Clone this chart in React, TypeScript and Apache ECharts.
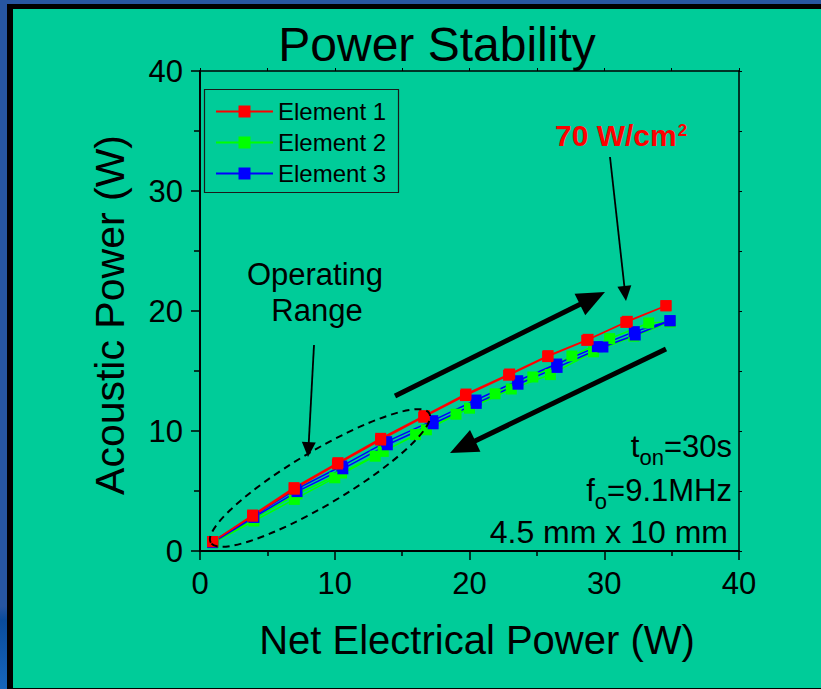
import React, { useEffect, useRef } from "react";
import * as echarts from "echarts";

// ---- data ----
const seriesNames = ["Element 1", "Element 2", "Element 3"];
const xTicks = [0, 10, 20, 30, 40];
const yTicks = [0, 10, 20, 30, 40];

// Element 1 (red) : up sweep and down sweep
const e1UpX = [0.94, 3.91, 6.98, 10.24, 13.41, 16.65, 19.74, 22.98, 25.83, 28.8, 31.71, 34.58];
const e1UpY = [0.78, 3.0, 5.28, 7.36, 9.39, 11.28, 13.08, 14.75, 16.28, 17.64, 19.14, 20.44];
const e1DownX = [34.58, 31.6, 28.7, 25.8, 22.9, 19.7, 16.6, 13.4, 10.2, 7.0, 3.9, 0.94];
const e1DownY = [20.44, 19.05, 17.55, 16.2, 14.65, 12.95, 11.15, 9.25, 7.25, 5.15, 2.9, 0.78];

// Element 2 (green)
const e2UpX = [1.0, 4.0, 7.2, 10.5, 13.6, 16.8, 20.0, 23.1, 26.0, 29.2, 32.2, 34.9];
const e2UpY = [0.7, 2.7, 4.75, 6.5, 8.3, 10.1, 11.9, 13.5, 14.7, 16.6, 17.9, 19.1];
const e2DownX = [34.9, 33.3, 30.4, 27.6, 24.7, 21.9, 19.0, 16.0, 13.0, 10.0, 7.0, 4.0, 1.0];
const e2DownY = [19.1, 19.0, 17.7, 16.25, 14.5, 13.1, 11.4, 9.7, 7.9, 6.1, 4.3, 2.5, 0.7];

// Element 3 (blue)
const e3UpX = [0.94, 3.96, 7.12, 10.52, 13.85, 17.27, 20.48, 23.58, 26.47, 29.49, 32.23, 34.88];
const e3UpY = [0.78, 2.92, 5.14, 7.08, 9.11, 10.86, 12.58, 14.19, 15.58, 17.03, 18.28, 19.19];
const e3DownX = [34.88, 32.3, 29.9, 26.5, 23.6, 20.5, 17.3, 13.9, 10.6, 7.2, 4.0, 0.94];
const e3DownY = [19.19, 18.0, 17.0, 15.3, 13.9, 12.3, 10.6, 8.85, 6.85, 4.95, 2.8, 0.7];

const FONT = '"Liberation Sans", Arial, sans-serif';

function pairs(xs: number[], ys: number[]) {
  return xs.map((x, i) => [x, ys[i]]);
}

function measure(text: string, font: string): number {
  const c = document.createElement("canvas");
  const ctx = c.getContext("2d")!;
  ctx.font = font;
  return ctx.measureText(text).width;
}

// text placed by its alphabetic baseline
function txt(text: string, x: number, baseline: number, size: number, opts: any = {}) {
  return {
    type: "text",
    x,
    y: baseline - 0.35 * size,
    rotation: opts.rotation || 0,
    style: {
      text,
      fontSize: size,
      fontFamily: FONT,
      fontWeight: opts.weight || "normal",
      fill: opts.color || "#000",
      align: opts.align || "left",
      verticalAlign: "middle",
    },
    z: 50,
  };
}

function arrow(x1: number, y1: number, x2: number, y2: number, w: number, hl: number, hw: number) {
  const dx = x2 - x1;
  const dy = y2 - y1;
  const L = Math.sqrt(dx * dx + dy * dy);
  const ux = dx / L;
  const uy = dy / L;
  const bx = x2 - hl * ux;
  const by = y2 - hl * uy;
  const nx = -uy;
  const ny = ux;
  return [
    {
      type: "line",
      shape: { x1, y1, x2: bx + ux * 2, y2: by + uy * 2 },
      style: { stroke: "#000", lineWidth: w },
      z: 50,
    },
    {
      type: "polygon",
      shape: {
        points: [
          [x2, y2],
          [bx + nx * hw, by + ny * hw],
          [bx - nx * hw, by - ny * hw],
        ],
      },
      style: { fill: "#000" },
      z: 50,
    },
  ];
}

export default function App() {
  const ref = useRef<HTMLDivElement>(null);

  useEffect(() => {
    if (!ref.current) return;
    const chart = echarts.init(ref.current, null, { renderer: "svg" });

    const f31 = `31px ${FONT}`;
    const f22 = `22px ${FONT}`;
    const right = 732;

    const wA1 = measure("=30s", f31);
    const wA2 = measure("on", f22);
    const wB1 = measure("=9.1MHz", f31);
    const wB2 = measure("o", f22);
    const w70 = measure("70 W/cm", `bold 30px ${FONT}`);

    const graphics: any[] = [
      txt("Power Stability", 437, 61, 48, { align: "center" }),
      txt("Net Electrical Power (W)", 477, 654, 40, { align: "center" }),
      {
        type: "text",
        x: 130,
        y: 315,
        rotation: Math.PI / 2,
        style: {
          text: "Acoustic Power (W)",
          fontSize: 41,
          fontFamily: FONT,
          fill: "#000",
          align: "center",
          verticalAlign: "bottom",
        },
        z: 50,
      },
      // legend box
      {
        type: "rect",
        shape: { x: 204.5, y: 89.5, width: 194, height: 103 },
        style: { fill: "none", stroke: "#1a1a1a", lineWidth: 1.2 },
        z: 40,
      },
      txt("Operating", 315, 285, 31, { align: "center" }),
      txt("Range", 317, 321, 31, { align: "center" }),
      ...arrow(314, 345, 308, 457, 1.8, 15, 7),
      {
        type: "ellipse",
        x: 320,
        y: 478,
        rotation: 0.535,
        shape: { cx: 0, cy: 0, rx: 127, ry: 27 },
        style: { fill: "none", stroke: "#000", lineWidth: 2, lineDash: [7, 5] },
        z: 45,
      },
      ...arrow(395, 396, 605, 292, 5, 28, 12),
      ...arrow(666, 349, 450, 453, 5, 28, 12),
      txt("70 W/cm", 555, 146, 30, { weight: "bold", color: "#ff0000" }),
      txt("2", 555 + w70 + 1, 136, 17, { weight: "bold", color: "#ff0000" }),
      ...arrow(610, 157, 626, 301, 1.8, 15, 7),
      txt("=30s", right, 457, 31, { align: "right" }),
      txt("on", right - wA1, 465, 22, { align: "right" }),
      txt("t", right - wA1 - wA2, 457, 31, { align: "right" }),
      txt("=9.1MHz", right, 501, 31, { align: "right" }),
      txt("o", right - wB1, 509, 22, { align: "right" }),
      txt("f", right - wB1 - wB2, 501, 31, { align: "right" }),
      txt("4.5 mm x 10 mm", right - 4, 543, 32, { align: "right" }),
    ];

    const lineSeries = (name: string, color: string, data: number[][]) => ({
      name,
      type: "line",
      data,
      symbol: "rect",
      symbolSize: 11,
      itemStyle: { color },
      lineStyle: { color, width: 1.5 },
      emphasis: { disabled: true },
    });

    chart.setOption({
      animation: false,
      grid: { left: 200, right: 82, top: 71, bottom: 138, containLabel: false },
      legend: {
        data: seriesNames,
        orient: "vertical",
        left: 215,
        top: 99,
        padding: 0,
        itemWidth: 57,
        itemHeight: 15,
        itemGap: 6,
        selectedMode: false,
        textStyle: { fontSize: 24, fontFamily: FONT, color: "#000", lineHeight: 25 },
      },
      xAxis: [
        {
          type: "value",
          min: xTicks[0],
          max: xTicks[xTicks.length - 1],
          interval: 10,
          axisLine: { show: true, onZero: false, lineStyle: { color: "#000", width: 2 } },
          axisTick: { show: true, inside: false, length: 9, lineStyle: { color: "#000", width: 1.5 } },
          minorTick: { show: true, splitNumber: 2, length: 5, lineStyle: { color: "#000", width: 1.5 } },
          axisLabel: { color: "#000", fontSize: 31, fontFamily: FONT, margin: 17 },
          splitLine: { show: false },
        },
        {
          type: "value",
          position: "top",
          min: 0,
          max: 40,
          interval: 5,
          axisLine: { show: true, onZero: false, lineStyle: { color: "#000", width: 1.5 } },
          axisTick: { show: true, inside: false, length: 3, lineStyle: { color: "#000", width: 1 } },
          axisLabel: { show: false },
          splitLine: { show: false },
        },
      ],
      yAxis: [
        {
          type: "value",
          min: yTicks[0],
          max: yTicks[yTicks.length - 1],
          interval: 10,
          axisLine: { show: true, onZero: false, lineStyle: { color: "#000", width: 2 } },
          axisTick: { show: true, inside: false, length: 9, lineStyle: { color: "#000", width: 1.5 } },
          minorTick: { show: true, splitNumber: 2, length: 6, lineStyle: { color: "#000", width: 1.5 } },
          axisLabel: { color: "#000", fontSize: 31, fontFamily: FONT, margin: 17 },
          splitLine: { show: false },
        },
        {
          type: "value",
          position: "right",
          min: 0,
          max: 40,
          interval: 5,
          axisLine: { show: true, onZero: false, lineStyle: { color: "#000", width: 1.5 } },
          axisTick: { show: true, inside: false, length: 3, lineStyle: { color: "#000", width: 1 } },
          axisLabel: { show: false },
          splitLine: { show: false },
        },
      ],
      series: [
        lineSeries("Element 2", "#00ff00", pairs(e2UpX, e2UpY).concat(pairs(e2DownX, e2DownY))),
        lineSeries("Element 3", "#0000ff", pairs(e3UpX, e3UpY).concat(pairs(e3DownX, e3DownY))),
        lineSeries("Element 1", "#ff0000", pairs(e1UpX, e1UpY).concat(pairs(e1DownX, e1DownY))),
      ],
      graphic: { elements: graphics },
    });

    return () => chart.dispose();
  }, []);

  return (
    <div
      style={{
        position: "fixed",
        left: 0,
        top: 0,
        width: 821,
        height: 689,
        background: "linear-gradient(to bottom, #2756a1 0%, #2756a1 88%, #0a4c9c 90%, #1766bd 100%)",
        overflow: "hidden",
      }}
    >
      <div style={{ position: "absolute", left: 7, top: 4, width: 814, height: 685, background: "#000" }} />
      <div style={{ position: "absolute", left: 13, top: 9, width: 808, height: 679, background: "#00cc99" }} />
      <div ref={ref} style={{ position: "absolute", left: 0, top: 0, width: 821, height: 689 }} />
    </div>
  );
}
